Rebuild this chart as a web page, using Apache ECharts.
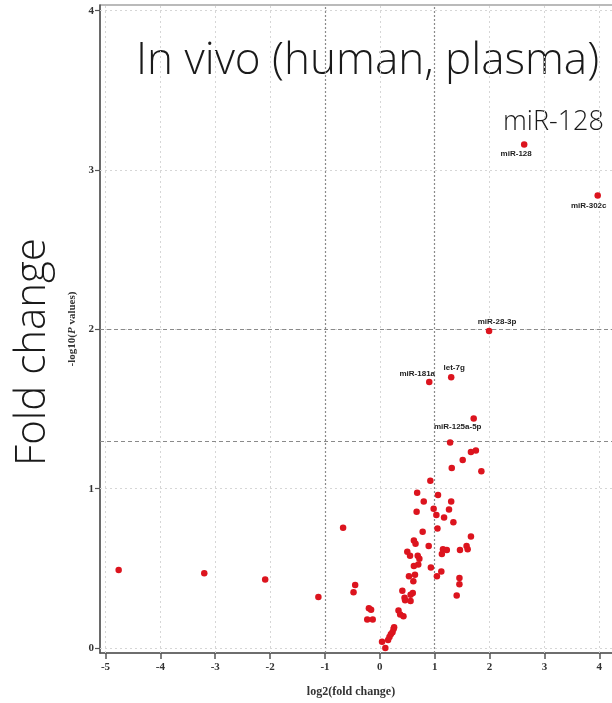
<!DOCTYPE html>
<html>
<head>
<meta charset="utf-8">
<style>
  html, body { margin: 0; padding: 0; background: #ffffff; }
  #chart { width: 612px; height: 703px; }
</style>
<script src="https://cdn.jsdelivr.net/npm/echarts@6/dist/echarts.min.js"></script>
</head>
<body>
<div id="chart"></div>
<script>
// Axis ticks and significance thresholds
const xTicks = [-5, -4, -3, -2, -1, 0, 1, 2, 3, 4];
const yTicks = [0, 1, 2, 3, 4];
const foldThresholds = [-1, 1];
const pThresholds = [1.3, 2];

// Named miRNAs
const mirNames = ['miR-128', 'miR-302c', 'miR-28-3p', 'let-7g', 'miR-181a', 'miR-125a-5p'];
const mirLog2FC = [2.63, 3.97, 1.99, 1.30, 0.90, 1.71];
const mirNegLogP = [3.16, 2.84, 1.99, 1.70, 1.67, 1.44];
// label offset of each name relative to its point
const mirLabelOffset = [[-8, 9], [-9, 10], [8, -9], [3, -9], [-12, -8], [-16, 8]];

// Remaining miRNAs
const otherLog2FC = [
  1.28, 1.66, 1.75, 1.51, 1.31, 1.85, 0.92, 0.68, 1.06, 0.80,
  1.30, 0.98, 1.26, 0.67, 1.03, 1.17, 1.34, -0.67, 1.05, 0.78,
  1.66, 0.62, 0.65, 0.89, 1.58, 1.60, 1.46, 1.15, 1.22, 1.13,
  0.50, 0.55, 0.69, 0.72, 0.70, 0.62, 0.93, 1.12, 0.64, 0.53,
  1.04, 1.45, 0.61, 1.45, -0.45, -0.48, 0.41, 0.60, 0.56, 0.45,
  1.40, 0.46, 0.56, -0.20, -0.16, 0.34, 0.37, 0.43, -0.23, -0.13,
  0.26, 0.25, 0.23, 0.20, 0.175, 0.15, 0.04, 0.10,
  -4.76, -3.20, -2.09, -1.12
];
const otherNegLogP = [
  1.29, 1.23, 1.24, 1.18, 1.13, 1.11, 1.05, 0.975, 0.96, 0.92,
  0.92, 0.875, 0.87, 0.855, 0.835, 0.82, 0.79, 0.755, 0.75, 0.73,
  0.70, 0.675, 0.655, 0.64, 0.64, 0.62, 0.615, 0.62, 0.615, 0.59,
  0.605, 0.58, 0.58, 0.56, 0.525, 0.515, 0.505, 0.48, 0.46, 0.45,
  0.45, 0.44, 0.42, 0.40, 0.395, 0.35, 0.36, 0.345, 0.335, 0.315,
  0.33, 0.30, 0.295, 0.25, 0.24, 0.235, 0.21, 0.20, 0.18, 0.18,
  0.13, 0.12, 0.10, 0.086, 0.07, 0.05, 0.04, 0.00,
  0.49, 0.47, 0.43, 0.32
];

const POINT_COLOR = '#dc141e';
const serif = '"Liberation Serif", "Times New Roman", serif';
const light = '"Open Sans", "Lato", sans-serif';

const otherData = otherLog2FC.map((x, i) => [x, otherNegLogP[i]]);
const mirData = mirNames.map((name, i) => ({
  name: name,
  value: [mirLog2FC[i], mirNegLogP[i]],
  label: {
    show: true,
    position: 'inside',
    offset: mirLabelOffset[i],
    formatter: name,
    fontFamily: '"Liberation Sans", Arial, sans-serif',
    fontWeight: 'bold',
    fontSize: 8,
    color: '#222'
  }
}));

// light dotted grid at every tick, darker dashes at thresholds
const gridLines = [];
xTicks.forEach(v => gridLines.push({
  xAxis: v,
  lineStyle: foldThresholds.includes(v)
    ? { color: '#8a8a8a', type: [2, 2], width: 1.2 }
    : { color: '#d6d6d6', type: [2, 3], width: 1 }
}));
yTicks.forEach(v => gridLines.push({
  yAxis: v,
  lineStyle: { color: '#d6d6d6', type: [2, 3], width: 1 }
}));
pThresholds.forEach(v => gridLines.push({
  yAxis: v,
  lineStyle: { color: '#8a8a8a', type: [4, 3], width: 1 }
}));

const chart = echarts.init(document.getElementById('chart'), null, { renderer: 'canvas' });

chart.setOption({
  animation: false,
  backgroundColor: '#ffffff',
  grid: {
    left: 100,
    top: 5,
    width: 521.3,
    bottom: 50,
    outerBoundsMode: 'none',
    containLabel: false,
    show: true,
    borderColor: '#777',
    borderWidth: 1.2,
    backgroundColor: 'transparent'
  },
  xAxis: {
    type: 'value',
    min: -5.1,
    max: 4.4,
    splitLine: { show: false },
    axisLine: { onZero: false, lineStyle: { color: '#555', width: 1.5 } },
    axisTick: { show: true, customValues: xTicks, length: 6, lineStyle: { color: '#555', width: 1.5 } },
    axisLabel: {
      customValues: xTicks,
      margin: 9,
      fontFamily: serif,
      fontWeight: 'bold',
      fontSize: 11,
      color: '#333'
    }
  },
  yAxis: {
    type: 'value',
    min: -0.031,
    max: 4.036,
    splitLine: { show: false },
    axisLine: { onZero: false, lineStyle: { color: '#555', width: 1.5 } },
    axisTick: { show: true, customValues: yTicks, length: 5, lineStyle: { color: '#555', width: 1.2 } },
    axisLabel: {
      customValues: yTicks,
      margin: 6,
      fontFamily: serif,
      fontWeight: 'bold',
      fontSize: 11,
      color: '#333'
    },
    name: '-log10({i|P} values)',
    nameLocation: 'middle',
    nameGap: 22,
    nameTextStyle: {
      fontFamily: serif,
      fontWeight: 'bold',
      fontSize: 11,
      color: '#333',
      rich: {
        i: { fontFamily: serif, fontWeight: 'bold', fontStyle: 'italic', fontSize: 11, color: '#333' }
      }
    }
  },
  series: [
    {
      type: 'scatter',
      symbolSize: 6.5,
      itemStyle: { color: POINT_COLOR, opacity: 1 },
      data: otherData,
      silent: true,
      markLine: {
        silent: true,
        symbol: 'none',
        label: { show: false },
        data: gridLines,
        z: 1
      },
      z: 3
    },
    {
      type: 'scatter',
      symbolSize: 6.5,
      itemStyle: { color: POINT_COLOR, opacity: 1 },
      data: mirData,
      silent: true,
      z: 4
    }
  ],
  graphic: [
    {
      type: 'text',
      x: 136, y: 61,
      style: {
        text: 'In vivo (human, plasma)',
        font: '300 44px ' + light,
        fill: '#1a1a1a',
        textVerticalAlign: 'middle'
      }
    },
    {
      type: 'text',
      x: 503, y: 122,
      style: {
        text: 'miR-128',
        font: '300 27px ' + light,
        fill: '#1a1a1a',
        textVerticalAlign: 'middle'
      }
    },
    {
      type: 'text',
      x: 351, y: 692,
      style: {
        text: 'log2(fold change)',
        font: 'bold 12px ' + serif,
        fill: '#333',
        textAlign: 'center',
        textVerticalAlign: 'middle'
      }
    },
    {
      type: 'text',
      x: 33, y: 352,
      rotation: Math.PI / 2,
      style: {
        text: 'Fold change',
        font: '300 42px ' + light,
        fill: '#1a1a1a',
        textAlign: 'center',
        textVerticalAlign: 'middle'
      }
    }
  ]
});
</script>
</body>
</html>
